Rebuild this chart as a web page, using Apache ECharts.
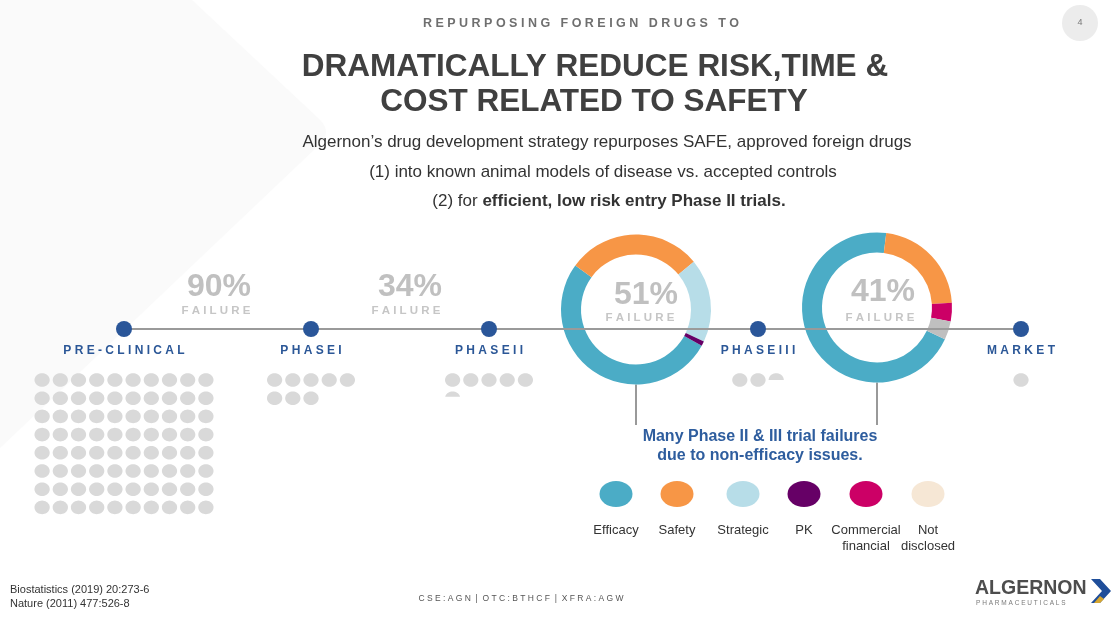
<!DOCTYPE html>
<html><head><meta charset="utf-8">
<script src="https://cdn.jsdelivr.net/npm/echarts@6/dist/echarts.min.js"></script>
<style>html,body{margin:0;padding:0;background:#fff}#c{width:1111px;height:623px}</style>
</head><body><div id="c"></div><script>
// ---------------- data ----------------
const stageNames = ['PRE-CLINICAL', 'PHASE I', 'PHASE II', 'PHASE III', 'MARKET'];
const stageLabels = ['P R E - C L I N I C A L', 'P H A S E I', 'P H A S E I I', 'P H A S E I I I', 'M A R K E T'];
const failureRates = [90, 34, 51, 41];
const drugsRemaining = [80, 8, 5.4, 2.5, 1];
const reasonNames = ['Efficacy', 'Safety', 'Strategic', 'PK', 'Commercial\nfinancial', 'Not\ndisclosed'];
const phaseIIReasons = [52, 29, 18, 1, 0, 0];
const phaseIIIReasons = [70, 22, 0, 0, 4, 4];
const headerText = 'R E P U R P O S I N G   F O R E I G N   D R U G S   T O';
const titleLines = ['DRAMATICALLY REDUCE RISK,TIME &', 'COST RELATED TO SAFETY'];
const bodyLines = ['Algernon\u2019s drug development strategy repurposes SAFE, approved foreign drugs',
  '(1) into known animal models of disease vs. accepted controls'];
const bodyLine3 = ['(2) for ', 'efficient, low risk entry Phase II trials.'];
const noteLines = ['Many Phase II & III trial failures', 'due to non-efficacy issues.'];
const refs = ['Biostatistics (2019) 20:273-6', 'Nature (2011) 477:526-8'];
const tickerText = 'C S E : A G N  |  O T C : B T H C F  |  X F R A : A G W';
const pageNo = '4';

// ---------------- layout / style ----------------
const W = 1111, H = 623;
const FONT = 'Liberation Sans, Arial, sans-serif';
const reasonColors = ['#4bacc6', '#f79646', '#b7dde8', '#660066', '#cc0066', '#f6e7d5'];
const donutColors = ['#4bacc6', '#f79646', '#b7dde8', '#660066', '#cc0066', '#bfbfbf'];
const L = {
  stageX: [124, 311, 489, 758, 1021], lineY: 329, nodeSize: 16,
  dotTop: 380, dotGap: 18.2, dotRx: 7.6, dotRy: 6.8, dotsPerRow: [10, 5, 5, 5, 5],
  pctX: [219, 410, 646, 883], pctY: [287, 287, 295, 292],
  failX: [216, 406, 640, 880], failY: [311, 311, 318, 318],
  donutCenters: [[636, 309.5], [877, 307.5]], donutR: [55, 75], donutStart: [331.2, 334.9],
  connectorBottom: 425,
  legendX: [616, 677, 743, 804, 866, 928], legendY: 494, legendSize: [33, 26]
};

// dots from counts
function ellipsePts(cx, cy, rx, ry, f) {
  const T = Math.acos(Math.max(-1, Math.min(1, 1 - 2 * f)));
  const pts = [], n = 40;
  for (let k = 0; k <= n; k++) {
    const t = -T + 2 * T * k / n;
    pts.push([cx + rx * Math.sin(t), cy - ry * Math.cos(t)]);
  }
  return pts;
}
const dotData = [];
drugsRemaining.forEach((n, i) => {
  const per = L.dotsPerRow[i];
  const total = Math.ceil(n), full = Math.floor(n);
  const frac = +(n - full).toFixed(3);
  const cols = Math.min(total, per);
  for (let k = 0; k < total; k++) {
    const r = Math.floor(k / per), c = k % per;
    dotData.push([L.stageX[i] + (c - (cols - 1) / 2) * L.dotGap, L.dotTop + r * L.dotGap, k < full ? 1 : frac]);
  }
});

function pieData(vals) {
  const out = [];
  vals.forEach((v, i) => { if (v > 0) out.push({ name: reasonNames[i], value: v, itemStyle: { color: donutColors[i] } }); });
  return out;
}

function chevronPts() {
  const pts = [[0, 0], [192, 0], [318, 118]];
  for (let k = 1; k < 10; k++) {
    const t = k / 10, a = [318, 118], b = [334, 132], c = [318, 146];
    pts.push([(1 - t) * (1 - t) * a[0] + 2 * (1 - t) * t * b[0] + t * t * c[0], (1 - t) * (1 - t) * a[1] + 2 * (1 - t) * t * b[1] + t * t * c[1]]);
  }
  pts.push([318, 146], [0, 448]);
  return pts;
}

const graphics = [];
graphics.push({ type: 'polygon', z: -10, shape: { points: chevronPts() }, style: { fill: '#fafafa' }, silent: true });
graphics.push({ type: 'circle', shape: { cx: 1080, cy: 23, r: 18 }, style: { fill: '#ececec' } });
function txt(text, x, y, font, fill, align) {
  return { type: 'text', style: { text, x, y, font, fill, textAlign: align || 'center', align: align || 'center', textVerticalAlign: 'middle', verticalAlign: 'middle' } };
}
graphics.push(txt(pageNo, 1080, 23, '9px ' + FONT, '#777'));
graphics.push(txt(headerText, 581, 24, 'bold 12.5px ' + FONT, '#6f6f6f'));
graphics.push(txt(titleLines[0], 595, 67, 'bold 31.5px ' + FONT, '#404040'));
graphics.push(txt(titleLines[1], 594, 102, 'bold 31.5px ' + FONT, '#404040'));
graphics.push(txt(bodyLines[0], 607, 142, '17px ' + FONT, '#333'));
graphics.push(txt(bodyLines[1], 603, 172, '17px ' + FONT, '#333'));
graphics.push({ type: 'text', style: { text: bodyLine3[0] + '{b|' + bodyLine3[1] + '}', x: 609, y: 201, font: '17px ' + FONT, fill: '#333', textAlign: 'center', align: 'center', textVerticalAlign: 'middle', verticalAlign: 'middle',
  rich: { b: { fontWeight: 'bold', fontSize: 17, fontFamily: FONT, fill: '#333', color: '#333' } } } });
failureRates.forEach((v, i) => {
  graphics.push(txt(v + '%', L.pctX[i], L.pctY[i], 'bold 32px ' + FONT, '#c0c0c0'));
  graphics.push(txt('F A I L U R E', L.failX[i], L.failY[i], 'bold 11.5px ' + FONT, '#c6c6c6'));
});
graphics.push(txt(noteLines[0], 760, 437, 'bold 16px ' + FONT, '#2e5d9e'));
graphics.push(txt(noteLines[1], 760, 456, 'bold 16px ' + FONT, '#2e5d9e'));
graphics.push(txt(refs[0], 10, 590, '11px ' + FONT, '#333', 'left'));
graphics.push(txt(refs[1], 10, 604, '11px ' + FONT, '#333', 'left'));
graphics.push(txt(tickerText, 521, 599, '8.5px ' + FONT, '#555'));
graphics.push(txt('ALGERNON', 975, 589, 'bold 19.5px ' + FONT, '#4d4d4d', 'left'));
graphics.push(txt('P H A R M A C E U T I C A L S', 976, 603, '6.5px ' + FONT, '#7a7a7a', 'left'));
graphics.push({ type: 'polygon', shape: { points: [[1091, 579], [1100, 579], [1111, 591], [1100, 603], [1091, 603], [1102, 591]] }, style: { fill: '#1f4e9a' } });
graphics.push({ type: 'polygon', shape: { points: [[1094, 603], [1100, 596], [1104, 599], [1100, 603]] }, style: { fill: '#d6a630' } });

const series = [];
L.donutCenters.forEach((c, i) => {
  series.push({ type: 'line', data: [[c[0], c[1] + L.donutR[1]], [c[0], L.connectorBottom]], symbol: 'none', silent: true, z: 1,
    lineStyle: { color: '#999', width: 2 } });
});
[phaseIIReasons, phaseIIIReasons].forEach((vals, i) => {
  series.push({ type: 'pie', center: L.donutCenters[i], radius: L.donutR, startAngle: L.donutStart[i], clockwise: true,
    data: pieData(vals), label: { show: false }, labelLine: { show: false }, silent: true, z: 2,
    itemStyle: { borderWidth: 0 } });
});
series.push({ type: 'line', data: L.stageX.map(x => [x, L.lineY]), symbol: 'none', silent: true, z: 5,
  lineStyle: { color: '#9a9a9a', width: 2 } });
series.push({ type: 'scatter', data: L.stageX.map((x, i) => ({ value: [x, L.lineY], name: stageNames[i] })), symbolSize: L.nodeSize, silent: true, z: 6,
  itemStyle: { color: '#2a5699', opacity: 1 },
  label: { show: true, position: 'bottom', distance: 8, formatter: p => stageLabels[p.dataIndex], color: '#2b5797', fontWeight: 'bold', fontSize: 12, fontFamily: FONT } });
series.push({ type: 'custom', data: dotData, silent: true, z: 3,
  renderItem: (params, api) => {
    const p = api.coord([api.value(0), api.value(1)]);
    return { type: 'polygon', shape: { points: ellipsePts(p[0], p[1], L.dotRx, L.dotRy, api.value(2)) }, style: { fill: '#d9d9d9' } };
  } });
series.push({ type: 'scatter', data: L.legendX.map((x, i) => ({ value: [x, L.legendY], name: reasonNames[i], itemStyle: { color: reasonColors[i], opacity: 1 } })),
  symbolSize: L.legendSize, silent: true, z: 6,
  label: { show: true, position: 'bottom', distance: 15, formatter: p => reasonNames[p.dataIndex], color: '#333', fontSize: 13, lineHeight: 16, fontFamily: FONT } });

const chart = echarts.init(document.getElementById('c'), null, { renderer: 'canvas' });
chart.setOption({
  animation: false,
  backgroundColor: '#ffffff',
  grid: { left: 0, right: 0, top: 0, bottom: 0, containLabel: false },
  xAxis: { type: 'value', min: 0, max: W, show: false },
  yAxis: { type: 'value', min: 0, max: H, inverse: true, show: false },
  graphic: graphics,
  series
});
</script></body></html>
